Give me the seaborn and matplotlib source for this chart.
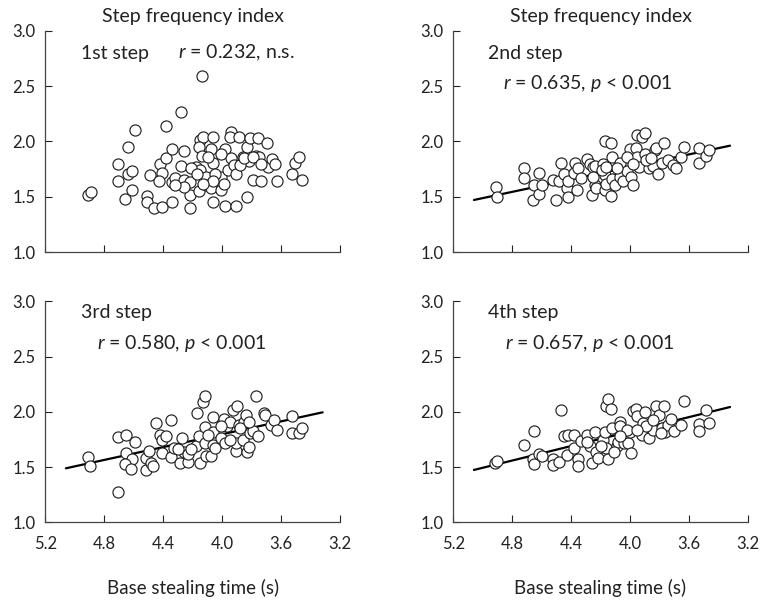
import matplotlib
matplotlib.use("Agg")
import matplotlib.pyplot as plt
import seaborn as sns
import pandas as pd

# base stealing time (s) vs step frequency index
step1_time = [4.14, 4.28, 4.38, 4.59, 4.64, 4.71, 4.71, 4.91, 4.89, 4.66, 4.61, 4.64, 4.61, 4.49,
              4.51, 4.51, 4.46, 4.41, 4.34, 4.42, 4.41, 4.43, 4.38, 4.34, 4.34, 4.32, 4.28, 4.26,
              4.26, 4.22, 4.22, 4.22, 4.18, 4.16, 4.15, 4.15, 4.13, 4.16, 4.14, 4.11, 4.11, 4.08,
              4.08, 4.06, 4.06, 4.06, 4.01, 4.01, 3.99, 3.98, 3.98, 3.96, 3.94, 3.95, 3.94, 3.92,
              3.91, 3.91, 3.89, 3.86, 3.83, 3.83, 3.82, 3.81, 3.79, 3.77, 3.76, 3.75, 3.74, 3.70,
              3.69, 3.66, 3.64, 3.63, 3.53, 3.51, 3.48, 3.46, 4.10, 4.21, 4.01, 4.05, 3.88, 3.85,
              4.17, 4.06, 4.13, 4.26, 4.32, 3.79, 3.74]
step1_sfi = [2.59, 2.27, 2.14, 2.10, 1.95, 1.80, 1.64, 1.52, 1.54, 1.48, 1.56, 1.71, 1.73, 1.70,
             1.51, 1.45, 1.40, 1.41, 1.45, 1.80, 1.72, 1.64, 1.85, 1.93, 1.63, 1.67, 1.78, 1.91,
             1.65, 1.63, 1.52, 1.40, 1.77, 1.55, 1.74, 2.01, 2.04, 1.95, 1.87, 1.68, 1.61, 1.58,
             1.93, 2.04, 1.81, 1.45, 1.68, 1.56, 1.62, 1.93, 1.42, 1.74, 2.09, 2.04, 1.85, 1.79,
             1.71, 1.42, 2.04, 1.86, 1.95, 1.50, 1.82, 2.03, 1.65, 1.87, 2.03, 1.86, 1.64, 1.99,
             1.77, 1.84, 1.80, 1.64, 1.71, 1.81, 1.86, 1.65, 1.86, 1.76, 1.89, 1.71, 1.79, 1.85,
             1.71, 1.64, 1.62, 1.59, 1.61, 1.86, 1.80]

step2_time = [4.91, 4.90, 4.72, 4.72, 4.66, 4.65, 4.62, 4.62, 4.60, 4.52, 4.50, 4.48, 4.47, 4.45,
              4.43, 4.42, 4.42, 4.38, 4.37, 4.36, 4.35, 4.33, 4.29, 4.27, 4.26, 4.25, 4.24, 4.24,
              4.23, 4.18, 4.17, 4.17, 4.13, 4.17, 4.16, 4.13, 4.12, 4.12, 4.10, 4.07, 4.07, 4.05,
              4.02, 4.00, 3.99, 3.98, 3.96, 3.95, 3.95, 3.92, 3.90, 3.94, 3.90, 3.87, 3.84, 3.83,
              3.82, 3.81, 3.78, 3.77, 3.74, 3.71, 3.69, 3.65, 3.63, 3.53, 3.53, 3.48, 3.46, 4.02,
              3.89, 4.19, 4.09, 3.98, 3.86, 4.25, 4.16]
step2_sfi = [1.59, 1.50, 1.76, 1.67, 1.47, 1.61, 1.72, 1.53, 1.61, 1.65, 1.47, 1.64, 1.81, 1.71,
             1.58, 1.50, 1.64, 1.72, 1.81, 1.56, 1.76, 1.67, 1.84, 1.80, 1.52, 1.77, 1.78, 1.61,
             1.58, 1.80, 1.70, 2.00, 1.99, 1.56, 1.62, 1.51, 1.86, 1.66, 1.61, 1.81, 1.68, 1.64,
             1.73, 1.93, 1.68, 1.61, 1.94, 1.86, 2.06, 2.04, 2.08, 1.77, 1.89, 1.76, 1.78, 1.92,
             1.94, 1.71, 1.81, 1.99, 1.83, 1.79, 1.76, 1.86, 1.95, 1.94, 1.81, 1.87, 1.92, 1.86,
             1.83, 1.74, 1.76, 1.80, 1.85, 1.68, 1.77]

step3_time = [4.91, 4.90, 4.71, 4.71, 4.65, 4.59, 4.65, 4.61, 4.66, 4.62, 4.52, 4.52, 4.50, 4.48,
              4.47, 4.45, 4.42, 4.41, 4.41, 4.38, 4.35, 4.35, 4.33, 4.29, 4.27, 4.26, 4.23, 4.23,
              4.18, 4.17, 4.16, 4.15, 4.13, 4.12, 4.12, 4.12, 4.11, 4.08, 4.06, 4.06, 4.06, 4.01,
              3.99, 3.98, 3.97, 3.95, 3.93, 3.91, 3.91, 3.90, 3.89, 3.86, 3.85, 3.84, 3.83, 3.82,
              3.81, 3.79, 3.77, 3.76, 3.72, 3.71, 3.67, 3.65, 3.63, 3.53, 3.53, 3.48, 3.46, 4.21,
              4.01, 3.95, 3.88, 4.10, 4.05, 3.82, 4.30]
step3_sfi = [1.59, 1.51, 1.28, 1.77, 1.79, 1.73, 1.63, 1.57, 1.53, 1.48, 1.47, 1.58, 1.65, 1.54,
             1.51, 1.90, 1.79, 1.75, 1.63, 1.78, 1.93, 1.59, 1.67, 1.54, 1.76, 1.64, 1.55, 1.62,
             1.69, 1.99, 1.78, 1.54, 2.09, 2.14, 1.86, 1.72, 1.60, 1.60, 1.95, 1.82, 1.70, 1.76,
             1.94, 1.72, 1.87, 1.91, 2.02, 1.65, 1.72, 2.05, 1.88, 1.75, 1.91, 1.97, 1.64, 1.68,
             1.81, 1.83, 2.14, 1.78, 1.99, 1.97, 1.88, 1.93, 1.84, 1.96, 1.81, 1.81, 1.85, 1.66,
             1.87, 1.75, 1.85, 1.79, 1.67, 1.91, 1.66]

step4_time = [4.92, 4.90, 4.72, 4.65, 4.66, 4.65, 4.62, 4.60, 4.52, 4.52, 4.48, 4.47, 4.45, 4.43,
              4.42, 4.38, 4.38, 4.35, 4.35, 4.33, 4.29, 4.27, 4.26, 4.24, 4.23, 4.22, 4.18, 4.17,
              4.16, 4.15, 4.16, 4.15, 4.13, 4.12, 4.09, 4.08, 4.07, 4.07, 4.04, 4.01, 4.00, 3.99,
              3.98, 3.96, 3.95, 3.92, 3.91, 3.90, 3.87, 3.84, 3.82, 3.80, 3.78, 3.77, 3.76, 3.74,
              3.72, 3.70, 3.65, 3.63, 3.53, 3.53, 3.48, 3.46, 4.02, 3.89, 4.20, 4.07, 3.84, 3.79,
              4.11, 4.29, 3.95]
step4_sfi = [1.54, 1.56, 1.70, 1.83, 1.57, 1.53, 1.62, 1.60, 1.57, 1.52, 1.55, 2.02, 1.78, 1.61,
             1.79, 1.79, 1.67, 1.57, 1.51, 1.74, 1.79, 1.69, 1.54, 1.82, 1.64, 1.58, 1.75, 1.82,
             1.67, 1.57, 2.05, 2.12, 2.03, 1.85, 1.69, 1.73, 1.91, 1.87, 1.72, 1.72, 1.82, 1.63,
             2.01, 2.03, 1.96, 1.79, 1.90, 2.00, 1.76, 1.84, 2.05, 1.97, 1.85, 2.05, 1.82, 1.88,
             1.94, 1.83, 1.88, 2.10, 1.89, 1.83, 2.02, 1.90, 1.84, 1.87, 1.69, 1.78, 1.93, 1.81,
             1.64, 1.73, 1.84]

# regression lines as drawn (start/end of the line)
fit_time = [5.06, 3.32]
step2_fit = [1.472, 1.962]
step3_fit = [1.490, 1.996]
step4_fit = [1.475, 2.044]

step_names = ["1st step", "2nd step", "3rd step", "4th step"]
stat_labels = [r"$\it{r}$ = 0.232, n.s.", r"$\it{r}$ = 0.635, $\it{p}$ < 0.001",
               r"$\it{r}$ = 0.580, $\it{p}$ < 0.001", r"$\it{r}$ = 0.657, $\it{p}$ < 0.001"]
x_ticks = [5.2, 4.8, 4.4, 4.0, 3.6, 3.2]
y_ticks = [1.0, 1.5, 2.0, 2.5, 3.0]

panels = [
    (step1_time, step1_sfi, None),
    (step2_time, step2_sfi, step2_fit),
    (step3_time, step3_sfi, step3_fit),
    (step4_time, step4_sfi, step4_fit),
]

sns.set_theme(style="ticks")
plt.rcParams["font.family"] = ["Lato", "DejaVu Sans"]
plt.rcParams["mathtext.fontset"] = "custom"
plt.rcParams["mathtext.rm"] = "Lato"
plt.rcParams["mathtext.it"] = "Lato:italic"

fig = plt.figure(figsize=(7.61, 6.05), dpi=100)
boxes = [[0.0595, 0.583, 0.3877, 0.3663], [0.5957, 0.583, 0.3868, 0.3663],
         [0.0595, 0.1364, 0.3877, 0.3656], [0.5957, 0.1364, 0.3868, 0.3656]]
# (step label x, y), (stat label x, y) in axes fraction
text_pos = [((0.12, 0.899), (0.451, 0.899)), ((0.119, 0.899), (0.17, 0.763)),
            ((0.12, 0.948), (0.176, 0.81)), ((0.119, 0.948), (0.176, 0.81))]

for i, (tx, sfi, fit) in enumerate(panels):
    ax = fig.add_axes(boxes[i])
    df = pd.DataFrame({"time": tx, "sfi": sfi})
    if fit is not None:
        line = pd.DataFrame({"time": fit_time, "sfi": fit})
        sns.lineplot(data=line, x="time", y="sfi", ax=ax, color="black", lw=1.6, zorder=1)
    sns.scatterplot(data=df, x="time", y="sfi", ax=ax, s=64, facecolor="white",
                    edgecolor="#222222", linewidth=0.85, zorder=2)
    ax.set_xlim(5.2, 3.2)
    ax.set_ylim(1.0, 3.0)
    ax.set_xticks(x_ticks)
    ax.set_yticks(y_ticks)
    ax.set_yticklabels([f"{v:.1f}" for v in y_ticks])
    ax.tick_params(direction="in", length=5, width=0.8, labelsize=12, colors="#222222")
    ax.tick_params(axis="y", pad=7)
    ax.tick_params(axis="x", pad=10)
    for side in ["left", "bottom"]:
        ax.spines[side].set_color("#444444")
        ax.spines[side].set_linewidth(0.9)
    sns.despine(ax=ax)
    ax.set_ylabel("")
    if i < 2:
        ax.set_xticklabels([])
        ax.set_xlabel("")
        ax.set_title("Step frequency index", fontsize=14, pad=6, color="#222222")
    else:
        ax.set_xticklabels([f"{v:.1f}" for v in x_ticks])
        ax.set_xlabel("Base stealing time (s)", fontsize=13.5, labelpad=19, color="#222222")
    (sx, sy), (rx, ry) = text_pos[i]
    ax.text(sx, sy, step_names[i], transform=ax.transAxes, fontsize=14, va="center",
            color="#222222")
    ax.text(rx, ry, stat_labels[i], transform=ax.transAxes, fontsize=14, va="center",
            color="#222222")

fig.savefig("out.png", dpi=100)
